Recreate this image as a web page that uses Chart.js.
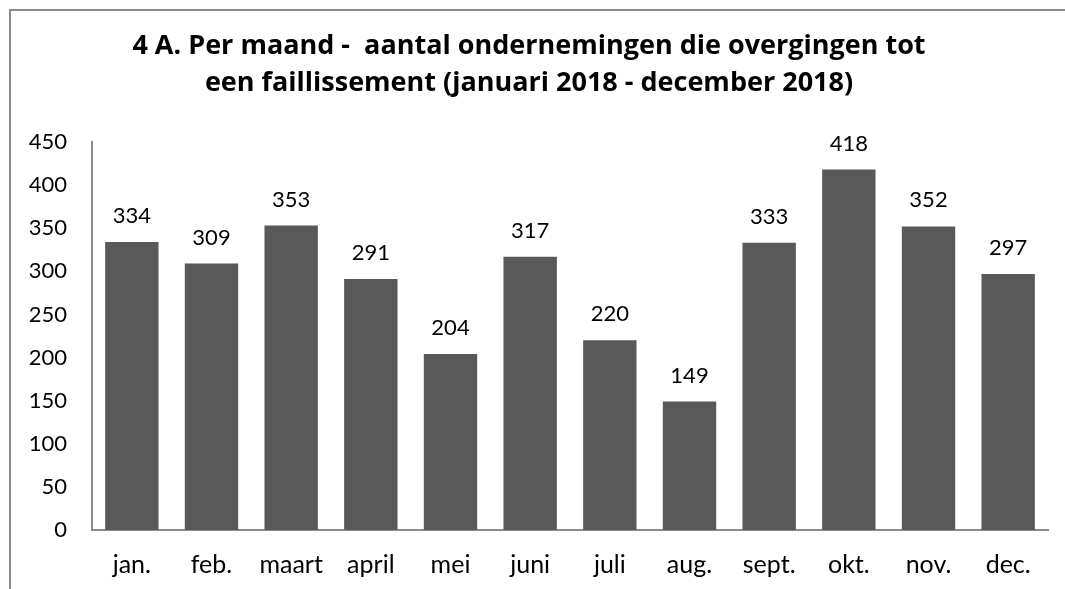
<!DOCTYPE html>
<html>
<head>
<meta charset="utf-8">
<script src="https://cdn.jsdelivr.net/npm/chart.js@4.4.0/dist/chart.umd.min.js"></script>
<style>
  html, body { margin: 0; padding: 0; background: #fff; }
  #wrap { position: relative; width: 1065px; height: 589px; }
</style>
</head>
<body>
<div id="wrap"><canvas id="failChart"></canvas></div>
<script>
// Data
const months = ["jan.", "feb.", "maart", "april", "mei", "juni", "juli", "aug.", "sept.", "okt.", "nov.", "dec."];
const faillissementen = [334, 309, 353, 291, 204, 317, 220, 149, 333, 418, 352, 297];
const titleLines = [
  "4 A. Per maand -  aantal ondernemingen die overgingen tot",
  "een faillissement (januari 2018 - december 2018)"
];
const yMax = 450;
const yStep = 50;

const FONT = "Lato, 'Open Sans', sans-serif";
const TITLE_FONT = "'Open Sans', Lato, sans-serif";

// draws the value above each bar (no datalabels plugin available)
const valueLabels = {
  id: "valueLabels",
  afterDatasetsDraw(chart) {
    const ctx = chart.ctx;
    const meta = chart.getDatasetMeta(0);
    ctx.save();
    ctx.font = "22px " + FONT;
    ctx.fillStyle = "#000";
    ctx.textAlign = "center";
    ctx.textBaseline = "alphabetic";
    meta.data.forEach((bar, i) => {
      ctx.fillText(faillissementen[i], bar.x, bar.y - 19);
    });
    ctx.restore();
  }
};

// the grey frame line at the left and top of the chart box
const frame = {
  id: "frame",
  beforeDraw(chart) {
    const ctx = chart.ctx;
    ctx.save();
    ctx.strokeStyle = "#8c8c8c";
    ctx.lineWidth = 2;
    ctx.beginPath();
    ctx.moveTo(10, chart.height);
    ctx.lineTo(10, 10);
    ctx.lineTo(chart.width, 10);
    ctx.stroke();
    ctx.restore();
  }
};

new Chart(document.getElementById("failChart"), {
  type: "bar",
  data: {
    labels: months,
    datasets: [{
      data: faillissementen,
      backgroundColor: "#595959",
      barPercentage: 0.67,
      categoryPercentage: 1.0
    }]
  },
  options: {
    responsive: true,
    maintainAspectRatio: false,
    animation: false,
    layout: { padding: { left: 10, right: 17, top: 10, bottom: 0 } },
    plugins: {
      legend: { display: false },
      tooltip: { enabled: false },
      title: {
        display: true,
        text: titleLines,
        color: "#000",
        font: { family: TITLE_FONT, size: 27, weight: "bold", lineHeight: 1.37 },
        padding: { top: 18, bottom: 40 }
      }
    },
    scales: {
      x: {
        grid: { display: false, drawTicks: false },
        border: { display: true, color: "#8c8c8c", width: 2 },
        ticks: { color: "#000", font: { family: FONT, size: 25 }, padding: 20, maxRotation: 0 },
        afterFit(scale) { scale.height = 59; }
      },
      y: {
        min: 0,
        max: yMax,
        grid: { display: false, drawTicks: false },
        border: { display: true, color: "#8c8c8c", width: 2 },
        ticks: { stepSize: yStep, color: "#000", font: { family: FONT, size: 22 }, padding: 25 },
        afterFit(scale) { scale.width = 82; }
      }
    }
  },
  plugins: [valueLabels, frame]
});
</script>
</body>
</html>
